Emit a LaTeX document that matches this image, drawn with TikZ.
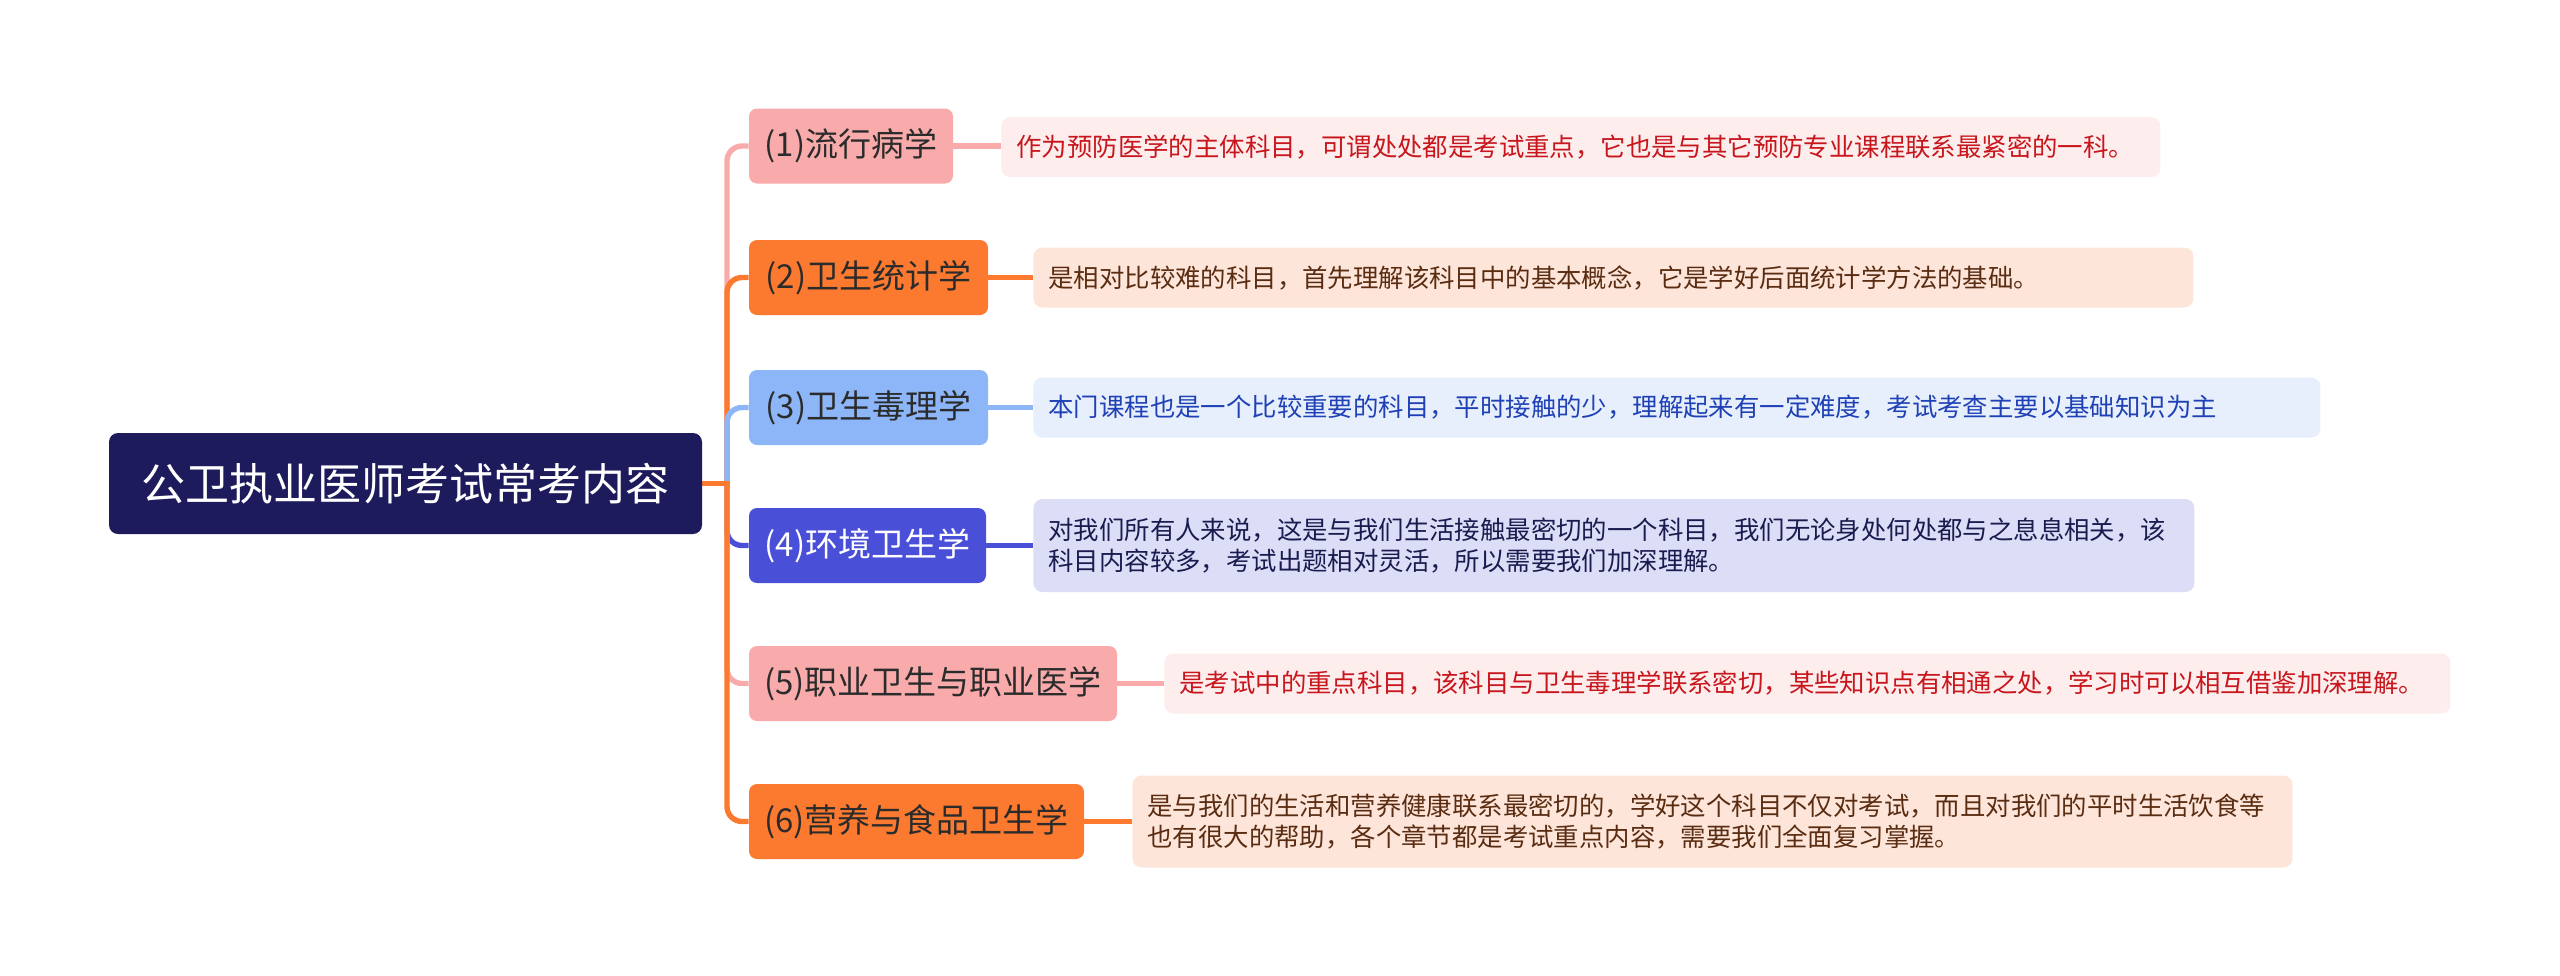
\documentclass[tikz,border=0pt]{standalone}
\usepackage{fontspec}
\setmainfont{Noto Sans CJK SC}
\pgfdeclarelayer{bg}
\pgfsetlayers{bg,main}
\definecolor{rootc}{HTML}{1D1B5C}
\definecolor{pinkc}{HTML}{F9ABAB}
\definecolor{pinkd}{HTML}{FDEDED}
\definecolor{redt}{HTML}{C8161D}
\definecolor{orangec}{HTML}{FB7A30}
\definecolor{oranged}{HTML}{FEE5D9}
\definecolor{brownt}{HTML}{5A2D12}
\definecolor{bluec}{HTML}{8DB6F9}
\definecolor{blued}{HTML}{E7EFFD}
\definecolor{bluet}{HTML}{1F41B5}
\definecolor{indigoc}{HTML}{4A4FD8}
\definecolor{indigod}{HTML}{DCDEF7}
\definecolor{navyt}{HTML}{1C1B4F}
\definecolor{darkt}{HTML}{2B2B2B}
\tikzset{
  rootbox/.style={rounded corners=4.5pt, inner sep=0pt, fill=rootc, text=white,
    minimum width=296.5pt, minimum height=50.5pt, font=\fontsize{22}{26}\selectfont},
  brbox/.style={rounded corners=4pt, inner sep=0pt, minimum height=37.5pt,
    font=\fontsize{16.5}{20}\selectfont, text=darkt},
  dsbox/.style={rounded corners=4.5pt, inner xsep=7.5pt, inner ysep=0pt, anchor=west,
    align=left, font=\fontsize{12.7}{15.5}\selectfont},
  conn/.style={line width=2.7pt},
}
\begin{document}
\begin{tikzpicture}[x=0.5pt,y=-0.5pt]
\useasboundingbox (0,0) rectangle (2560,975);
\node[rootbox] (root) at (405.5,483.5) {公卫执业医师考试常考内容};
\coordinate (T) at (727,483.5);
% branches
\node[brbox, fill=pinkc, minimum width=102pt] (b1) at (851,146) {(1)流行病学};
\node[brbox, fill=orangec, minimum width=119.5pt] (b2) at (868.5,277.5) {(2)卫生统计学};
\node[brbox, fill=bluec, minimum width=119.5pt] (b3) at (868.5,407.5) {(3)卫生毒理学};
\node[brbox, fill=indigoc, text=white, minimum width=118.5pt] (b4) at (867.5,545.5) {(4)环境卫生学};
\node[brbox, fill=pinkc, minimum width=184pt] (b5) at (933,683.5) {(5)职业卫生与职业医学};
\node[brbox, fill=orangec, minimum width=167.5pt] (b6) at (916.5,821.5) {(6)营养与食品卫生学};
% descriptions
\node[dsbox, fill=pinkd, text=redt, minimum width=579.5pt, minimum height=30pt, text width=564.5pt] (d1) at (1001,147) {作为预防医学的主体科目，可谓处处都是考试重点，它也是与其它预防专业课程联系最紧密的一科。};
\node[dsbox, fill=oranged, text=brownt, minimum width=580pt, minimum height=30pt, text width=565pt] (d2) at (1033,277.5) {是相对比较难的科目，首先理解该科目中的基本概念，它是学好后面统计学方法的基础。};
\node[dsbox, fill=blued, text=bluet, minimum width=643.5pt, minimum height=30pt, text width=628.5pt] (d3) at (1033,407.5) {本门课程也是一个比较重要的科目，平时接触的少，理解起来有一定难度，考试考查主要以基础知识为主};
\node[dsbox, fill=indigod, text=navyt, minimum width=580.5pt, minimum height=46.5pt, text width=565.5pt] (d4) at (1033,545.5) {对我们所有人来说，这是与我们生活接触最密切的一个科目，我们无论身处何处都与之息息相关，该\\科目内容较多，考试出题相对灵活，所以需要我们加深理解。};
\node[dsbox, fill=pinkd, text=redt, minimum width=643pt, minimum height=30pt, text width=628pt] (d5) at (1164,683.5) {是考试中的重点科目，该科目与卫生毒理学联系密切，某些知识点有相通之处，学习时可以相互借鉴加深理解。};
\node[dsbox, fill=oranged, text=brownt, minimum width=580pt, minimum height=46pt, text width=565pt] (d6) at (1132,821.5) {是与我们的生活和营养健康联系最密切的，学好这个科目不仅对考试，而且对我们的平时生活饮食等\\也有很大的帮助，各个章节都是考试重点内容，需要我们全面复习掌握。};
\begin{pgfonlayer}{bg}
\draw[conn, pinkc, rounded corners=7.5pt] (T) |- (b1.west);
\draw[conn, orangec, rounded corners=7.5pt] (T) |- (b2.west);
\draw[conn, bluec, rounded corners=7.5pt] (T) |- (b3.west);
\draw[conn, indigoc, rounded corners=7.5pt] (T) |- (b4.west);
\draw[conn, pinkc, rounded corners=7.5pt] (T) |- (b5.west);
\draw[conn, orangec, rounded corners=7.5pt] (T) |- (b6.west);
\draw[conn, orangec, line cap=rect] (root.east) -- (T);
\draw[conn, pinkc] (b1.east) -- (b1.east -| d1.west);
\draw[conn, orangec] (b2.east) -- (b2.east -| d2.west);
\draw[conn, bluec] (b3.east) -- (b3.east -| d3.west);
\draw[conn, indigoc] (b4.east) -- (b4.east -| d4.west);
\draw[conn, pinkc] (b5.east) -- (b5.east -| d5.west);
\draw[conn, orangec] (b6.east) -- (b6.east -| d6.west);
\end{pgfonlayer}
\end{tikzpicture}
\end{document}
